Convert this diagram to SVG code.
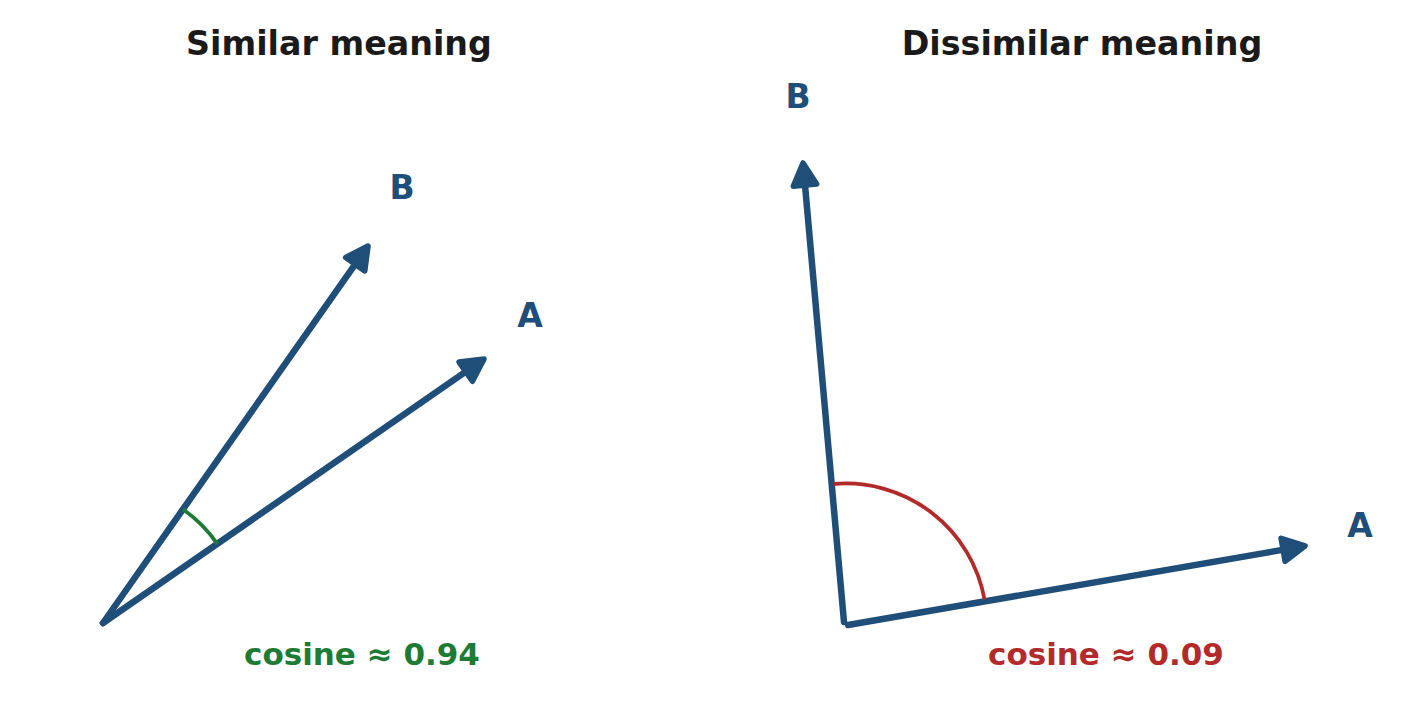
<svg xmlns="http://www.w3.org/2000/svg" width="1421" height="726" viewBox="0 0 1421 726">
<style>
.title{font-family:"DejaVu Sans","Liberation Sans",sans-serif;font-weight:bold;font-size:33.3px;fill:#1a1a1a;text-anchor:middle}
.lbl{font-family:"DejaVu Sans","Liberation Sans",sans-serif;font-weight:bold;font-size:33px;fill:#1f4e79;text-anchor:middle}
.cos{font-family:"DejaVu Sans","Liberation Sans",sans-serif;font-weight:bold;font-size:31px;text-anchor:middle}
.vec{stroke:#1f4e79;stroke-width:6.5;stroke-linecap:round;fill:none;marker-end:url(#head)}
.arc{fill:none;stroke-width:3.8}
</style>
<defs>
<marker id="head" markerUnits="userSpaceOnUse" markerWidth="40" markerHeight="40" viewBox="-6 -18 34 36" refX="2" refY="0" orient="auto">
<path d="M0,-10.5 L20,0 L0,10.5 Z" fill="#1f4e79" stroke="#1f4e79" stroke-width="5" stroke-linejoin="round"/>
</marker>
</defs>
<rect width="1421" height="726" fill="#ffffff"/>
<text class="title" x="339" y="55">Similar meaning</text>
<text class="title" x="1082" y="55">Dissimilar meaning</text>
<g id="connectors">
<line class="vec" x1="103" y1="623" x2="356.5" y2="262.4"/>
<line class="vec" x1="103" y1="623" x2="467.6" y2="370.4"/>
<line class="vec" x1="844" y1="622" x2="804.8" y2="182.9"/>
<line class="vec" x1="848" y1="625" x2="1285.3" y2="549.4"/>
</g>
<g id="angle-similar">
<path class="arc" stroke="#1e7b34" d="M182.9,509.3 A139,139 0 0 1 217.3,543.8"/>
</g>
<g id="angle-dissimilar">
<path class="arc" stroke="#b22a2a" d="M833.5,484 A141,141 0 0 1 984.5,599.5"/>
</g>
<g id="label-B-left"><text class="lbl" x="402" y="199">B</text></g>
<g id="label-A-left"><text class="lbl" x="530" y="327">A</text></g>
<g id="label-B-right"><text class="lbl" x="798" y="108">B</text></g>
<g id="label-A-right"><text class="lbl" x="1360" y="537">A</text></g>
<g id="cos-left"><text class="cos" x="362" y="665" fill="#1e7b34">cosine ≈ 0.94</text></g>
<g id="cos-right"><text class="cos" x="1106" y="665" fill="#b22a2a">cosine ≈ 0.09</text></g>
</svg>
